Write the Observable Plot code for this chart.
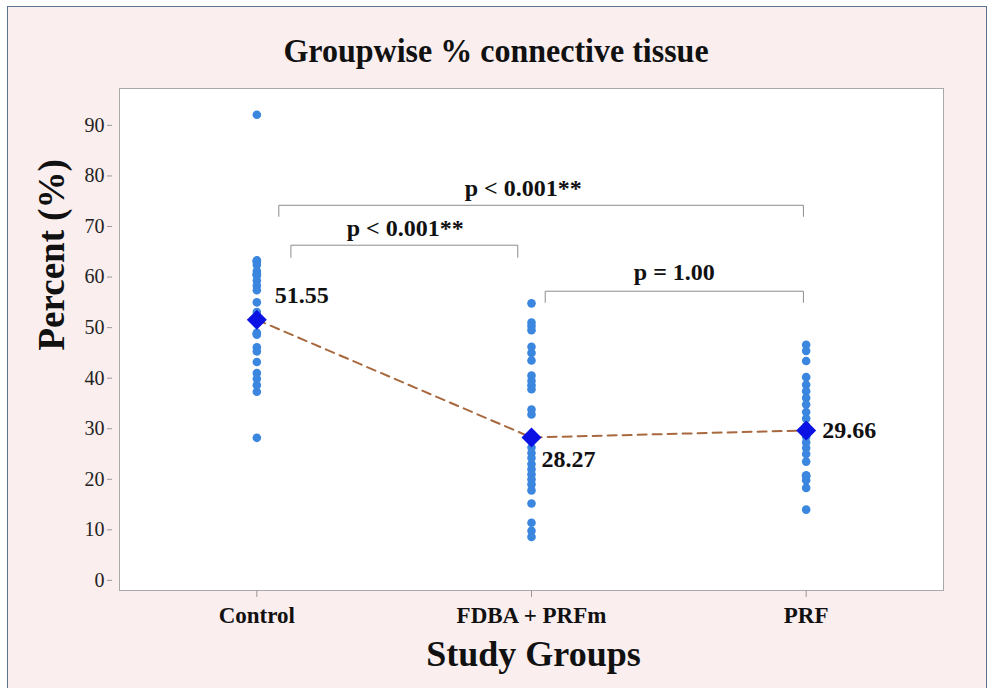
<!DOCTYPE html>
<html><head><meta charset="utf-8">
<script src="https://cdn.jsdelivr.net/npm/d3@7"></script>
<script src="https://cdn.jsdelivr.net/npm/@observablehq/plot@0.6"></script>
<style>
body{margin:0;background:#fff;}
#wrap{position:relative;width:992px;height:688px;overflow:hidden;background:#fff;font-family:"Liberation Serif","Times New Roman",serif;}
#panel{position:absolute;left:7px;top:6px;width:978px;height:700px;background:#faeeee;border-left:1px solid #5a7290;border-top:1px solid #5a7290;border-right:1px solid #5a7290;}
#title{position:absolute;left:0;top:30px;width:992px;height:40px;line-height:40px;text-align:center;font-weight:bold;font-size:32px;color:#111;transform:scaleY(1.08);}
#chart{position:absolute;left:0;top:80px;}
</style></head>
<body>
<div id="wrap"><div id="panel"></div><div id="title">Groupwise % connective tissue</div><div id="chart"></div></div>
<script>
const groups = ["Control", "FDBA + PRFm", "PRF"];
const controlValues = [92.1, 63.3, 63.2, 63.0, 62.4, 61.2, 60.6, 60.5, 60.3, 59.3, 58.3, 57.4, 55.0, 53.1, 49.0, 48.8, 48.6, 46.1, 45.3, 43.2, 41.0, 39.9, 38.6, 37.3, 28.2];
const fdbaValues = [54.8, 51.0, 50.3, 49.5, 46.2, 45.0, 43.5, 40.5, 39.5, 38.6, 37.8, 33.8, 32.8, 28.0, 26.3, 25.2, 24.2, 23.0, 22.0, 21.0, 20.0, 19.0, 17.8, 15.2, 11.4, 9.8, 8.6];
const prfValues = [46.6, 45.4, 43.4, 40.2, 38.7, 37.4, 36.1, 34.8, 33.3, 32.0, 30.5, 28.4, 27.3, 26.2, 25.0, 23.5, 20.8, 20.6, 19.8, 18.3, 14.0];
const means = [51.55, 28.27, 29.66];
const meanLabels = ["51.55", "28.27", "29.66"];
const yTicks = [0, 10, 20, 30, 40, 50, 60, 70, 80, 90];
const bracketLabels = ["p < 0.001**", "p < 0.001**", "p = 1.00"];
const bracketStart = [0.08, 0.124, 1.05];
const bracketEnd = [1.99, 0.95, 1.99];
const bracketLevel = [74.2, 66.3, 57.2];
const bracketDrop = [72.0, 63.9, 55.0];
const bracketTextX = [0.97, 0.54, 1.52];
const bracketTextY = [77.5, 69.6, 60.9];

const seriesValues = [controlValues, fdbaValues, prfValues];
const points = seriesValues.flatMap((vals, i) => vals.map(v => ({g: i, v})));
const meanData = means.map((m, i) => ({g: i, v: m, label: meanLabels[i]}));
const bracketPath = bracketLabels.flatMap((l, i) => [
  {k: i, x: bracketStart[i], y: bracketDrop[i]},
  {k: i, x: bracketStart[i], y: bracketLevel[i]},
  {k: i, x: bracketEnd[i], y: bracketLevel[i]},
  {k: i, x: bracketEnd[i], y: bracketDrop[i]}
]);
const bracketText = bracketLabels.map((l, i) => ({x: bracketTextX[i], y: bracketTextY[i], label: l}));

const serif = "Liberation Serif, Times New Roman, serif";
const chart = Plot.plot({
  width: 992,
  height: 608,
  marginLeft: 119,
  marginRight: 49,
  marginTop: 8,
  marginBottom: 98,
  style: {fontFamily: serif, background: "transparent", overflow: "visible"},
  x: {type: "linear", domain: [-0.5, 2.5]},
  y: {domain: [-2, 97.3]},
  marks: [
    Plot.frame({fill: "white", stroke: "#a9a9a9"}),
    Plot.axisY(yTicks, {tickSize: 5, dx: -7, tickPadding: 3, fontSize: 20, stroke: "#999", fill: "#222", label: null}),
    Plot.axisX([0, 1, 2], {tickSize: 7, tickPadding: 9, tickFormat: i => groups[i], fontSize: 23, fontWeight: "bold", stroke: "#999", fill: "#111", label: null}),
    Plot.line(bracketPath, {x: "x", y: "y", z: "k", stroke: "#8c8c8c", strokeWidth: 1}),
    Plot.text(bracketText, {x: "x", y: "y", text: "label", fontSize: 24, fontWeight: "bold", fill: "#111"}),
    Plot.line(meanData, {x: "g", y: "v", stroke: "#a8693f", strokeWidth: 2, strokeDasharray: "9,6"}),
    Plot.dot(points, {x: "g", y: "v", r: 4.3, fill: "#3b86df", stroke: "none"}),
    Plot.dot(meanData, {x: "g", y: "v", symbol: "diamond2", r: 9, fill: "#0b12e3", stroke: "none"}),
    Plot.text(meanData.filter(d => d.g === 0), {x: "g", y: "v", text: "label", textAnchor: "start", dx: 18, dy: -24, fontSize: 24, fontWeight: "bold", fill: "#111"}),
    Plot.text(meanData.filter(d => d.g === 1), {x: "g", y: "v", text: "label", textAnchor: "start", dx: 10, dy: 22, fontSize: 24, fontWeight: "bold", fill: "#111"}),
    Plot.text(meanData.filter(d => d.g === 2), {x: "g", y: "v", text: "label", textAnchor: "start", dx: 16, dy: 0, fontSize: 24, fontWeight: "bold", fill: "#111"}),
    Plot.text(["Percent (%)"], {frameAnchor: "left", rotate: -90, dx: -67, dy: 11, fontSize: 37, fontWeight: "bold", fill: "#111"}),
    Plot.text(["Study Groups"], {frameAnchor: "bottom", dx: 2, dy: 75, fontSize: 36, fontWeight: "bold", fill: "#111"})
  ]
});
document.getElementById("chart").appendChild(chart);
</script>
</body></html>
